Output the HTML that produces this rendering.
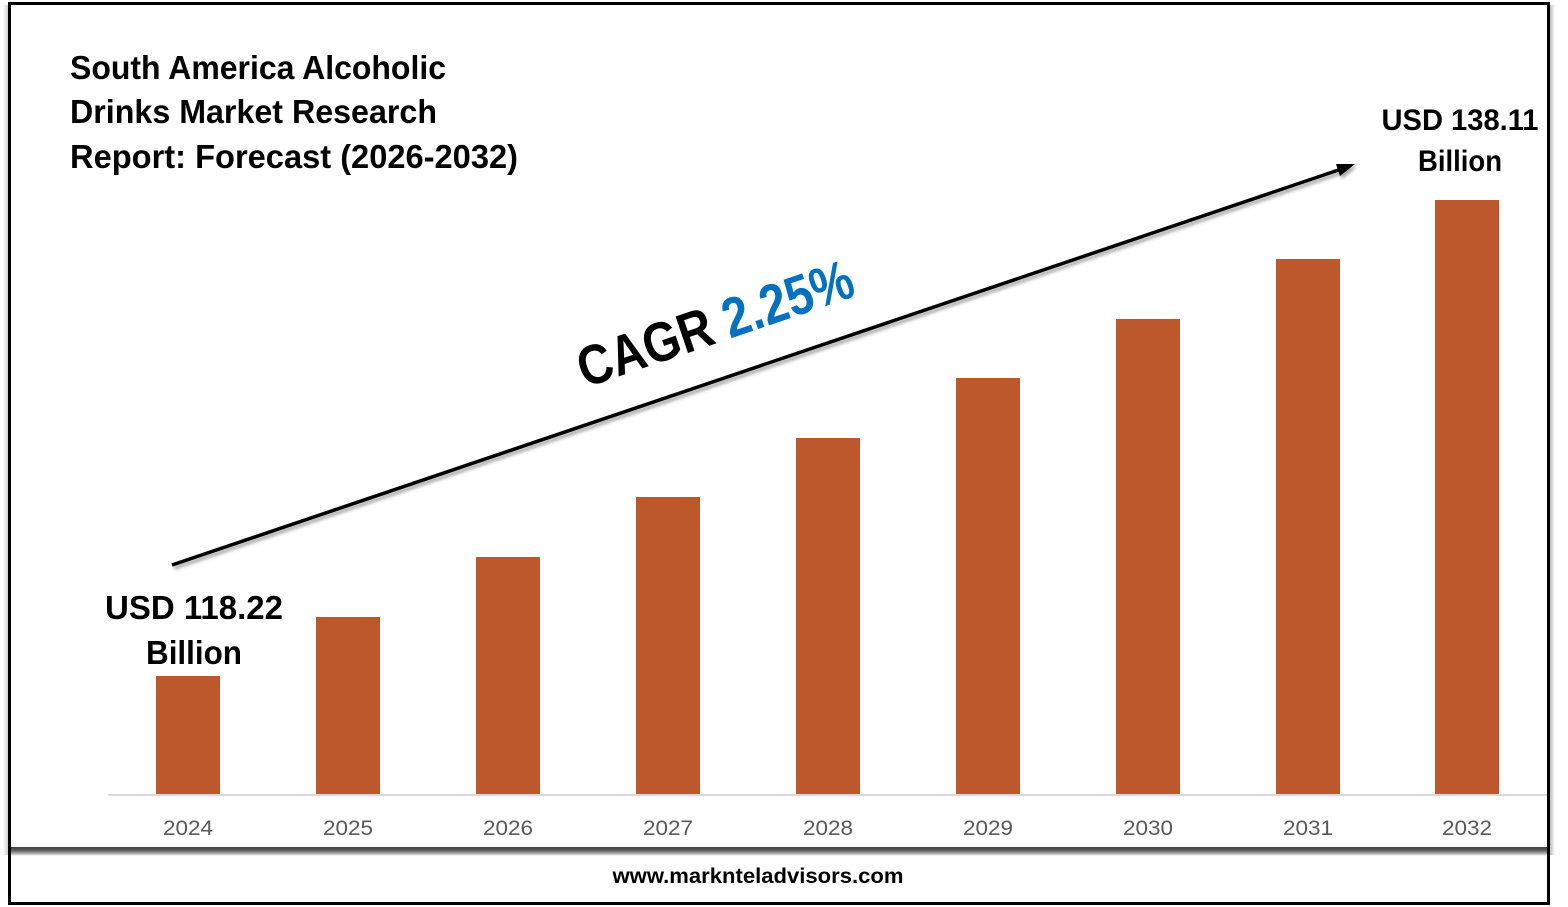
<!DOCTYPE html>
<html>
<head>
<meta charset="utf-8">
<style>
  html,body{margin:0;padding:0;background:#fff;}
  svg{display:block;}
  text{font-family:"Liberation Sans",Arial,sans-serif;}
</style>
</head>
<body>
<svg width="1568" height="907" viewBox="0 0 1568 907" xmlns="http://www.w3.org/2000/svg">
  <defs>
    <linearGradient id="bandShadow" x1="0" y1="0" x2="0" y2="1">
      <stop offset="0" stop-color="#3f3f3f"/>
      <stop offset="0.35" stop-color="#5a5a5a"/>
      <stop offset="0.7" stop-color="#a8a8a8"/>
      <stop offset="1" stop-color="#ffffff"/>
    </linearGradient>
    <linearGradient id="rightShadow" x1="0" y1="0" x2="1" y2="0">
      <stop offset="0" stop-color="#bdbdbd"/>
      <stop offset="1" stop-color="#ffffff"/>
    </linearGradient>
    <linearGradient id="leftShadow" x1="1" y1="0" x2="0" y2="0">
      <stop offset="0" stop-color="#cfcfcf"/>
      <stop offset="1" stop-color="#ffffff"/>
    </linearGradient>
    <filter id="ds" x="-5%" y="-20%" width="110%" height="140%">
      <feDropShadow dx="2" dy="3" stdDeviation="1.5" flood-color="#000" flood-opacity="0.35"/>
    </filter>
  </defs>

  <rect x="0" y="0" width="1568" height="907" fill="#fff"/>

  <!-- side shadows -->
  <rect x="3" y="5" width="5" height="850" fill="url(#leftShadow)"/>
  <rect x="1550" y="5" width="5" height="850" fill="url(#rightShadow)"/>

  <!-- outer frame -->
  <rect x="9.5" y="3.5" width="1539" height="900" fill="none" stroke="#000" stroke-width="3"/>

  <!-- bottom shadow band of chart -->
  <rect x="11" y="847" width="1536" height="9" fill="url(#bandShadow)"/>

  <!-- title -->
  <g font-weight="bold" font-size="33" fill="#000">
    <text x="70" y="79" textLength="376" lengthAdjust="spacingAndGlyphs">South America Alcoholic</text>
    <text x="70" y="123" textLength="367" lengthAdjust="spacingAndGlyphs">Drinks Market Research</text>
    <text x="70" y="168" textLength="448" lengthAdjust="spacingAndGlyphs">Report: Forecast (2026-2032)</text>
  </g>

  <!-- axis line -->
  <line x1="108" y1="795" x2="1547" y2="795" stroke="#d9d9d9" stroke-width="2"/>

  <!-- bars -->
  <g fill="#BD582C">
    <rect x="156" y="676" width="64" height="118"/>
    <rect x="316" y="617" width="64" height="177"/>
    <rect x="476" y="557" width="64" height="237"/>
    <rect x="636" y="497" width="64" height="297"/>
    <rect x="796" y="438" width="64" height="356"/>
    <rect x="956" y="378" width="64" height="416"/>
    <rect x="1116" y="319" width="64" height="475"/>
    <rect x="1276" y="259" width="64" height="535"/>
    <rect x="1435" y="200" width="64" height="594"/>
  </g>

  <!-- year labels -->
  <g font-size="21.5" fill="#595959" text-anchor="middle">
    <text x="188" y="835" textLength="50" lengthAdjust="spacingAndGlyphs">2024</text>
    <text x="348" y="835" textLength="50" lengthAdjust="spacingAndGlyphs">2025</text>
    <text x="508" y="835" textLength="50" lengthAdjust="spacingAndGlyphs">2026</text>
    <text x="668" y="835" textLength="50" lengthAdjust="spacingAndGlyphs">2027</text>
    <text x="828" y="835" textLength="50" lengthAdjust="spacingAndGlyphs">2028</text>
    <text x="988" y="835" textLength="50" lengthAdjust="spacingAndGlyphs">2029</text>
    <text x="1148" y="835" textLength="50" lengthAdjust="spacingAndGlyphs">2030</text>
    <text x="1308" y="835" textLength="50" lengthAdjust="spacingAndGlyphs">2031</text>
    <text x="1467" y="835" textLength="50" lengthAdjust="spacingAndGlyphs">2032</text>
  </g>

  <!-- arrow -->
  <g filter="url(#ds)">
    <line x1="172" y1="565" x2="1340" y2="169.5" stroke="#000" stroke-width="3.5"/>
    <polygon points="1355,164 1340,176 1336,164" fill="#000"/>
  </g>

  <!-- CAGR -->
  <text x="585" y="388" font-size="56" font-weight="bold" transform="rotate(-18.8 585 388)" textLength="288" lengthAdjust="spacingAndGlyphs"><tspan fill="#000">CAGR </tspan><tspan fill="#0070C0">2.25%</tspan></text>

  <!-- value labels -->
  <g font-weight="bold" fill="#000" text-anchor="middle">
    <text x="194" y="619" font-size="33" textLength="178" lengthAdjust="spacingAndGlyphs">USD 118.22</text>
    <text x="194" y="664" font-size="33" textLength="96" lengthAdjust="spacingAndGlyphs">Billion</text>
    <text x="1460" y="130" font-size="30" textLength="157" lengthAdjust="spacingAndGlyphs">USD 138.11</text>
    <text x="1460" y="171" font-size="30" textLength="84" lengthAdjust="spacingAndGlyphs">Billion</text>
  </g>

  <!-- footer -->
  <text x="758" y="883" font-size="21.5" font-weight="bold" fill="#000" text-anchor="middle" textLength="291" lengthAdjust="spacingAndGlyphs">www.marknteladvisors.com</text>
</svg>
</body>
</html>
